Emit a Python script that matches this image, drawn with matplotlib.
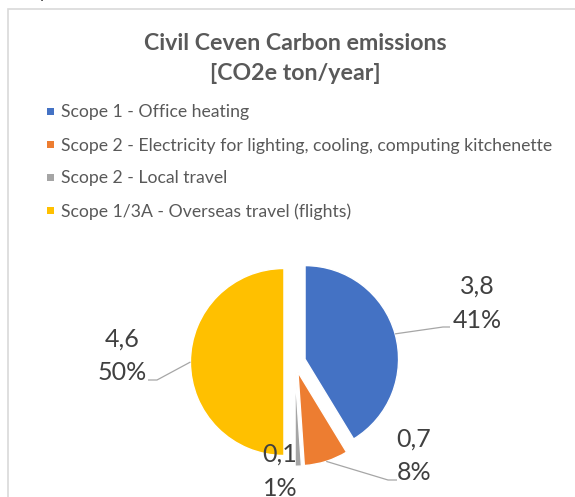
import math
import matplotlib
matplotlib.use("Agg")
import matplotlib.pyplot as plt
from matplotlib.patches import Rectangle

# ---------------- data ----------------
categories = [
    "Scope 1 - Office heating",
    "Scope 2 - Electricity for lighting, cooling, computing kitchenette",
    "Scope 2 - Local travel",
    "Scope 1/3A - Overseas travel (flights)",
]
values = [3.8, 0.7, 0.1, 4.6]
title_lines = ["Civil Ceven Carbon emissions", "[CO2e ton/year]"]

# ---------------- style / layout ----------------
colors = ["#4472C4", "#ED7D31", "#A5A5A5", "#FFC000"]
W, H = 575, 497
FONT = ["Lato", "DejaVu Sans"]
plt.rcParams["font.family"] = FONT

fig = plt.figure(figsize=(W / 100, H / 100), dpi=100)
ax = fig.add_axes([0, 0, 1, 1])


def Y(y):  # image px (top origin) -> data
    return H - y


pie_cx, pie_cy, pie_r = 294.7, 362.0, 93.5
explode_frac = 0.115

wedges, _ = ax.pie(values, colors=colors, startangle=90, counterclock=False,
                   explode=[explode_frac * pie_r] * len(values),
                   center=(pie_cx, Y(pie_cy)), radius=pie_r,
                   wedgeprops=dict(edgecolor="white", linewidth=1.0))
ax.set_xlim(0, W)
ax.set_ylim(0, H)
ax.set_aspect("auto")
ax.axis("off")

# chart frame
ax.add_patch(Rectangle((8, Y(510)), 574, 501, fill=False,
                       edgecolor="#D9D9D9", linewidth=1.2, clip_on=False))

# fragment of text above the chart
ax.text(43, Y(-2), "y", fontsize=12, color="#262626", ha="center",
        va="baseline", family=FONT)

renderer = fig.canvas.get_renderer()


def fit(t, target_w):
    bb = t.get_window_extent(renderer)
    t.set_fontsize(t.get_fontsize() * target_w / bb.width)


# title
t1 = ax.text(295, Y(41), title_lines[0], ha="center", va="center_baseline",
             fontsize=14, fontweight="bold", color="#595959")
fit(t1, 303)
t2 = ax.text(295, Y(72), title_lines[1], ha="center", va="center_baseline",
             fontsize=t1.get_fontsize(), fontweight="bold", color="#595959")

# legend
legend_rows = [111, 144, 177, 210]
leg_texts = []
for cat, col, ry in zip(categories, colors, legend_rows):
    ax.add_patch(Rectangle((47, Y(ry) - 3.5), 7, 7, facecolor=col,
                           edgecolor="none"))
    leg_texts.append(ax.text(61, Y(ry), cat, ha="left", va="center_baseline",
                             fontsize=11, color="#595959"))
fit(leg_texts[1], 489)
for t in leg_texts:
    t.set_fontsize(leg_texts[1].get_fontsize())

# data labels (layout: value line, percent line centres; leader elbow & end)
total = sum(values)
label_layout = [
    dict(x=477, y1=284, y2=318, elbow=(443, 327), end=(450, 327)),
    dict(x=414, y1=437, y2=470, elbow=(388, 480), end=(397, 480)),
    dict(x=280, y1=452, y2=487, elbow=None, end=None),
    dict(x=122, y1=337, y2=371, elbow=(157, 380), end=(148, 380)),
]

ref = ax.text(0, 0, "41%", fontsize=17)
fit(ref, 49)
lab_fs = ref.get_fontsize()
ref.remove()

for w, v, lay in zip(wedges, values, label_layout):
    vs = f"{v:.1f}".replace(".", ",")
    ps = f"{round(v / total * 100)}%"
    ax.text(lay["x"], Y(lay["y1"]), vs, ha="center", va="center_baseline",
            fontsize=lab_fs, color="#404040")
    ax.text(lay["x"], Y(lay["y2"]), ps, ha="center", va="center_baseline",
            fontsize=lab_fs, color="#404040")
    if lay["elbow"] is not None:
        mid = math.radians((w.theta1 + w.theta2) / 2)
        sx = w.center[0] + w.r * math.cos(mid)
        sy = w.center[1] + w.r * math.sin(mid)
        ex, ey = lay["elbow"]
        fx, fy = lay["end"]
        ax.plot([sx, ex, fx], [sy, Y(ey), Y(fy)], color="#A6A6A6",
                linewidth=0.9, solid_capstyle="butt")

fig.savefig("out.png", dpi=100, facecolor="white")
